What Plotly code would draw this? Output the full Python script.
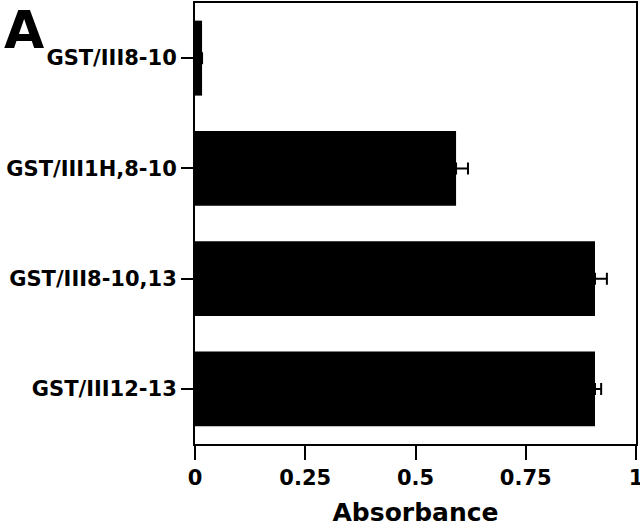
import plotly.graph_objects as go

# Data
constructs = ["GST/III8-10", "GST/III1H,8-10", "GST/III8-10,13", "GST/III12-13"]
absorbance = [0.016, 0.592, 0.907, 0.907]
error = [None, 0.027, 0.027, 0.014]
x_ticks = [0, 0.25, 0.5, 0.75, 1]
x_tick_labels = ["0", "0.25", "0.5", "0.75", "1"]

font_family = "DejaVu Sans"

fig = go.Figure()
fig.add_trace(
    go.Bar(
        y=constructs,
        x=absorbance,
        orientation="h",
        width=0.68,
        marker=dict(color="black", line=dict(width=0)),
        error_x=dict(
            type="data",
            symmetric=False,
            array=error,
            arrayminus=[None] * len(error),
            color="black",
            thickness=2,
            width=6,
        ),
    )
)

# panel letter
fig.add_annotation(
    text="<b>A</b>",
    xref="paper", yref="paper",
    x=-0.437, y=1.005,
    xanchor="left", yanchor="top",
    yshift=3,
    showarrow=False,
    font=dict(family=font_family, size=52, color="black"),
)

fig.update_layout(
    width=640,
    height=528,
    margin=dict(l=195, r=4, t=3, b=84),
    paper_bgcolor="white",
    plot_bgcolor="white",
    showlegend=False,
    font=dict(family=font_family, color="black"),
    xaxis=dict(
        range=[0, 1],
        automargin=False,
        tickvals=x_ticks,
        ticktext=[f"<b>{t}</b>" for t in x_tick_labels],
        ticklabeloverflow="allow",
        ticks="outside",
        ticklen=14,
        tickwidth=2,
        tickcolor="black",
        showline=True,
        linecolor="black",
        linewidth=2,
        mirror=True,
        showgrid=False,
        zeroline=False,
        tickfont=dict(size=21, family=font_family),
        title=dict(text="<b>Absorbance</b>", font=dict(size=25, family=font_family), standoff=14),
    ),
    yaxis=dict(
        categoryorder="array",
        categoryarray=constructs,
        range=[3.5, -0.5],
        automargin=False,
        tickvals=constructs,
        ticktext=[f"<b>{c}</b>" for c in constructs],
        ticks="outside",
        ticklen=12,
        tickwidth=2,
        tickcolor="black",
        showline=True,
        linecolor="black",
        linewidth=2,
        mirror=True,
        showgrid=False,
        zeroline=False,
        tickfont=dict(size=21, family=font_family),
    ),
)

# drop the page's default body margin so the figure sits at the window's corner
fig.write_html(
    "out.html",
    config={"displayModeBar": False},
    post_script="document.body.style.margin='0';",
)
